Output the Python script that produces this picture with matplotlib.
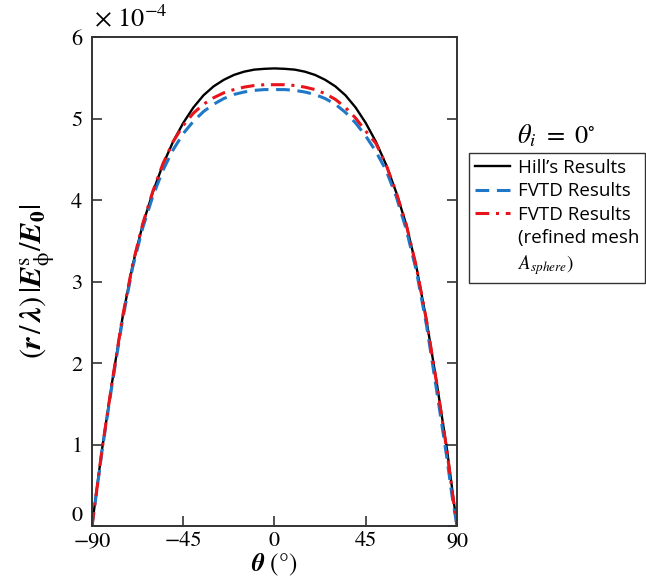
import numpy as np
from matplotlib import pyplot as plt

plt.rcParams['mathtext.fontset'] = 'stix'
plt.rcParams['font.family'] = ['STIXGeneral', 'DejaVu Serif']

# scattered field vs angle, values in units of 1e-4
theta = [-90, -87.5, -85, -80, -75, -70, -65, -60, -55, -50, -45, -40, -35, -30,
         -25, -20, -15, -10, -5, 0, 5, 10, 15, 20, 25, 30, 35, 40, 45, 50, 55,
         60, 65, 70, 75, 80, 85, 87.5, 90]
hill = [0, 0.48, 0.95, 1.78, 2.55, 3.20, 3.70, 4.10, 4.44, 4.72, 4.95, 5.14,
        5.29, 5.40, 5.48, 5.54, 5.58, 5.605, 5.615, 5.62, 5.615, 5.605, 5.58,
        5.54, 5.48, 5.40, 5.29, 5.14, 4.95, 4.72, 4.44, 4.10, 3.70, 3.18,
        2.52, 1.76, 0.95, 0.48, 0]
fvtd = [0, 0.46, 0.93, 1.75, 2.52, 3.17, 3.66, 4.05, 4.37, 4.62, 4.82, 4.97,
        5.09, 5.18, 5.25, 5.30, 5.33, 5.35, 5.36, 5.36, 5.36, 5.35, 5.33,
        5.30, 5.25, 5.18, 5.08, 4.95, 4.79, 4.60, 4.37, 4.05, 3.64, 3.13,
        2.46, 1.66, 0.84, 0.38, 0]
fvtd_refined = [0, 0.47, 0.95, 1.78, 2.56, 3.21, 3.71, 4.11, 4.45, 4.72, 4.92,
                5.07, 5.18, 5.26, 5.32, 5.36, 5.39, 5.41, 5.42, 5.42, 5.42,
                5.41, 5.39, 5.36, 5.31, 5.24, 5.14, 5.01, 4.85, 4.70, 4.44,
                4.10, 3.70, 3.18, 2.52, 1.75, 0.93, 0.45, 0]

xticks = [-90, -45, 0, 45, 90]
xticklabels = ['\u221290', '\u221245', '0', '45', '90']
yticks = [0, 1, 2, 3, 4, 5, 6]

fig = plt.figure(figsize=(6.46, 5.81), dpi=100)
ax = fig.add_axes([0.1424, 0.0947, 0.5650, 0.8408])

ax.plot(theta, hill, color='black', lw=1.7, label='Hill\u2019s Results')
ax.plot(theta, fvtd, color='#1f77c8', lw=2.2, ls=(0, (4.5, 2.5)),
        label='FVTD Results')
ax.plot(theta, fvtd_refined, color='#e8141b', lw=2.2, ls=(0, (4.5, 2.2, 1, 2.2)),
        label='FVTD Results')
# extra legend lines for the long label of the refined mesh entry
ax.plot([], [], color='none', label='(refined mesh')
ax.plot([], [], color='none', label='$A_{sphere}$)')

ax.set_xlim(-90, 90)
ax.set_ylim(0, 6)
ax.set_xticks(xticks)
ax.set_xticklabels(xticklabels)
ax.set_yticks(yticks)
ax.tick_params(direction='in', length=7, width=1.2, labelsize=16, color='#333333',
               right=True, top=False, pad=7)
ax.tick_params(axis='x', pad=4)
ax.get_yticklabels()[0].set_va('bottom')
for s in ax.spines.values():
    s.set_linewidth(1.4)
    s.set_color('#333333')

ax.text(0.005, 1.01, r'$\times\ 10^{-4}$', transform=ax.transAxes,
        fontsize=19, ha='left', va='bottom')
ax.set_xlabel(r'$\mathbfit{\theta}$ $(\degree)$', fontsize=18, labelpad=0)
ax.set_ylabel(r'$(\mathbfit{r}\,/\,\mathbfit{\lambda})\,|\mathbfit{E}_{\mathrm{\phi}}^{\mathrm{s}}/\mathbfit{E}_{\mathbf{0}}|$',
              fontsize=22, labelpad=10)

fig.text(0.862, 0.743, r'$\theta_i\ =\ 0^{\circ}$', fontsize=19, ha='center',
         va='bottom')
leg = ax.legend(loc='upper left', bbox_to_anchor=(1.033, 0.7636),
                prop={'family': 'Open Sans', 'size': 13.5}, frameon=True,
                fancybox=False, edgecolor='black', handlelength=1.9,
                handletextpad=0.4, borderpad=0.3, labelspacing=0.3,
                borderaxespad=0)
leg.get_frame().set_linewidth(1.0)
leg.get_texts()[4].set_fontfamily('STIXGeneral')

plt.savefig('out.png', dpi=100)
